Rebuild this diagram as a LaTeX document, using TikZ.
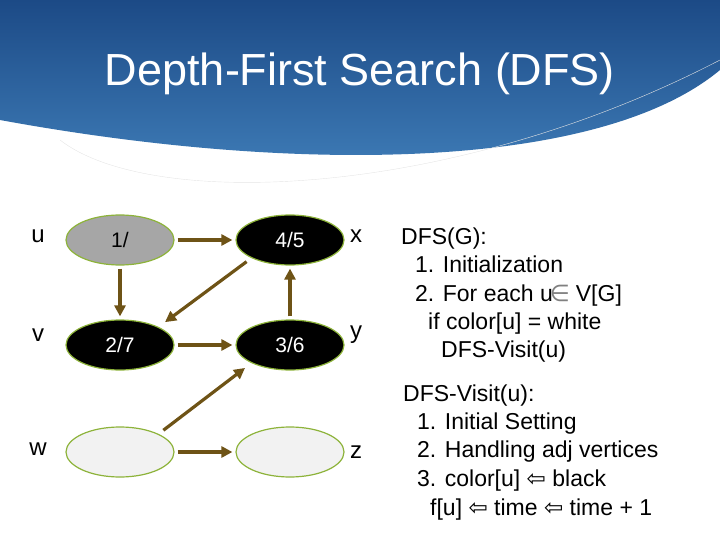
\documentclass[tikz,border=0pt]{standalone}
\usepackage{fontspec}
\setmainfont{Liberation Sans}
\newfontfamily\symfont{DejaVu Sans}
\usetikzlibrary{arrows.meta,shapes.geometric,positioning}
\definecolor{hdrdark}{HTML}{1C4A86}
\definecolor{hdrlight}{HTML}{3F7DB8}
\definecolor{rim}{HTML}{8DB33A}
\definecolor{linkbrown}{HTML}{6E5316}
\definecolor{grayfill}{HTML}{A6A6A6}
\definecolor{palefill}{HTML}{F2F2F2}
\tikzset{
  vertex/.style={ellipse, draw=rim, line width=1.2pt, minimum width=108pt,
    minimum height=50pt, font=\fontsize{21}{24}\selectfont},
  tag/.style={font=\fontsize{24}{26}\selectfont},
  link/.style={-{Triangle[length=11pt,width=11pt]}, draw=linkbrown, line width=3.2pt,
    shorten <=3pt, shorten >=3pt},
  code/.style={anchor=base west, inner sep=0pt, font=\fontsize{23}{26}\selectfont},
}
\begin{document}
\begin{tikzpicture}[x=1pt,y=-1pt]
  \useasboundingbox (0,0) rectangle (720,540);
  % header band
  \shade[top color=hdrdark, bottom color=hdrlight]
    (0,0) -- (720,0) -- (720,70) .. controls (600,170) and (300,175) .. (0,120) -- cycle;
  \draw[white!80!gray, line width=0.4pt] (60,140) .. controls (150,210) and (450,200) .. (720,60);
  \node[text=white, font=\fontsize{45}{50}\selectfont] (title) at (360,74) {Depth-First Search (DFS)};

  % vertices
  \node[vertex, fill=grayfill] (u) at (120,240) {1/};
  \node[vertex, fill=black, text=white] (x) at (290,240) {4/5};
  \node[vertex, fill=black, text=white] (v) at (120,345) {2/7};
  \node[vertex, fill=black, text=white] (y) at (290,345) {3/6};
  \node[vertex, fill=palefill] (w) at (120,452) {};
  \node[vertex, fill=palefill] (z) at (290,452) {};

  \node[tag] (lu) at (38,236) {u};
  \node[tag] (lv) at (38,335) {v};
  \node[tag] (lw) at (38,449) {w};
  \node[tag] (lx) at (356,236) {x};
  \node[tag] (ly) at (356,335) {y};
  \node[tag] (lz) at (356,452) {z};

  % links
  \draw[link] (u.east) -- (x.west);
  \draw[link] (u.south) -- (v.north);
  \draw[link, shorten <=6pt, shorten >=8pt] (x.south west) -- (v.north east);
  \draw[link] (v.east) -- (y.west);
  \draw[link] (y.north) -- (x.south);
  \draw[link, shorten <=6pt, shorten >=8pt] (w.north east) -- (y.south west);
  \draw[link] (w.east) -- (z.west);

  % pseudocode
  \node[code] (d1) at (401,244) {DFS(G):};
  \node[code] (d2) at (415,272) {1. Initialization};
  \node[code] (d3) at (415,301) {2. For each u\kern-3pt{\color{gray}\symfont ∈}\kern6pt V[G]};
  \node[code] (d4) at (428,329) {if color[u] = white};
  \node[code] (d5) at (441,357) {DFS-Visit(u)};
  \node[code] (e1) at (403,401) {DFS-Visit(u):};
  \node[code] (e2) at (417,429) {1. Initial Setting};
  \node[code] (e3) at (417,457) {2. Handling adj vertices};
  \node[code] (e4) at (417,486) {3. color[u] {\symfont ⇦} black};
  \node[code] (e5) at (430,515) {f[u] {\symfont ⇦} time {\symfont ⇦} time + 1};
\end{tikzpicture}
\end{document}
